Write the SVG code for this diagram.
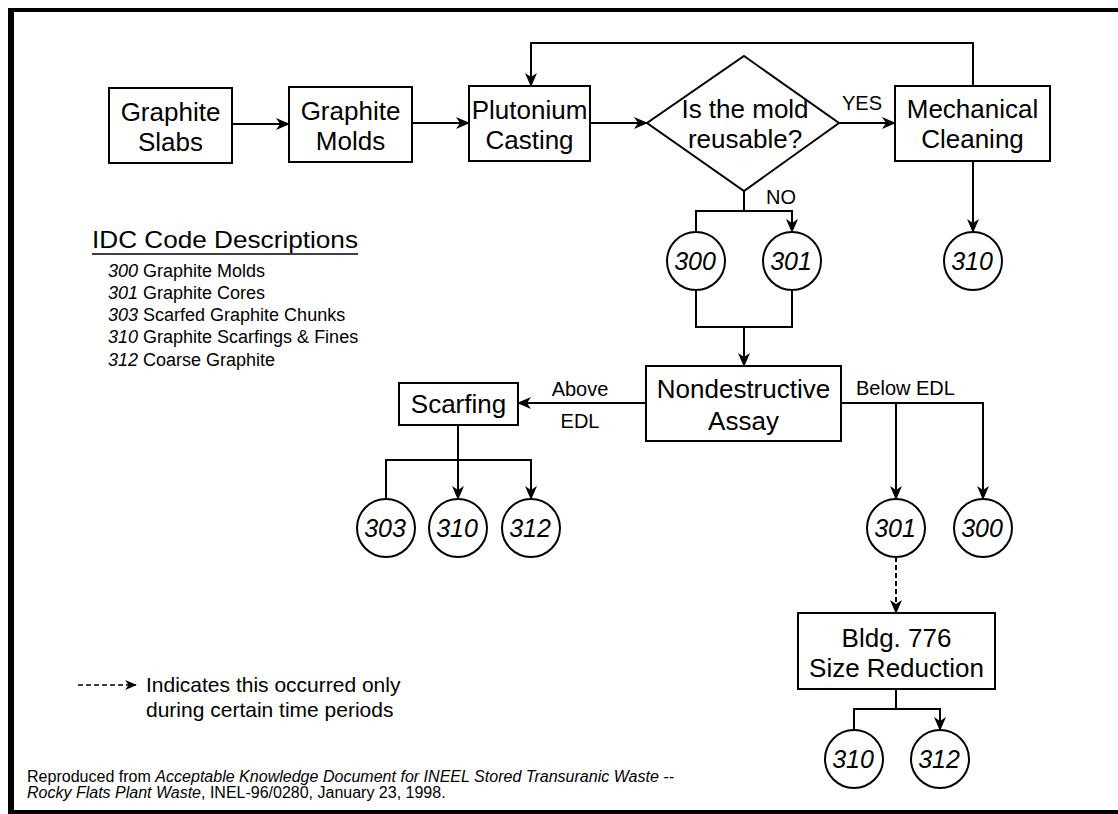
<svg xmlns="http://www.w3.org/2000/svg" width="1118" height="814" viewBox="0 0 1118 814">
<style>
text{font-family:"Liberation Sans",Arial,sans-serif;fill:#000}
.box{fill:#fff;stroke:#000;stroke-width:2}
.t{font-size:26px;text-anchor:middle}
.c{font-size:25px;font-style:italic;text-anchor:middle}
.lbl{font-size:20px}
.ln{fill:none;stroke:#000;stroke-width:2}
.ar{marker-end:url(#ah)}
.dash{stroke-dasharray:5,3}
.it{font-style:italic}
</style>
<defs>
<marker id="ah" viewBox="0 0 14 12" refX="13" refY="6" markerWidth="14" markerHeight="12" markerUnits="userSpaceOnUse" orient="auto">
<path d="M0,0 L14,6 L0,12 L4,6 z" fill="#000"/>
</marker>
<marker id="ahs" viewBox="0 0 14 12" refX="13" refY="6" markerWidth="12" markerHeight="10" markerUnits="userSpaceOnUse" orient="auto">
<path d="M0,0 L14,6 L0,12 L4,6 z" fill="#000"/>
</marker>
</defs>
<rect x="0" y="0" width="1118" height="814" fill="#fff"/>
<g id="frame" stroke="#000" fill="none">
<line x1="8" y1="10" x2="1118" y2="10" stroke-width="4"/>
<line x1="11" y1="8" x2="11" y2="814" stroke-width="6"/>
<line x1="8" y1="812" x2="1118" y2="812" stroke-width="4"/>
</g>
<g id="connectors">
<line class="ln ar" x1="232" y1="124" x2="289" y2="124"/>
<line class="ln ar" x1="412" y1="123" x2="469" y2="123"/>
<line class="ln ar" x1="590" y1="123" x2="647" y2="123"/>
<line class="ln ar" x1="839" y1="123" x2="895" y2="123"/>
<polyline class="ln ar" points="973,86 973,43 531,43 531,86"/>
<line class="ln ar" x1="973" y1="161" x2="973" y2="232"/>
<polyline class="ln" points="744,191 744,211"/>
<polyline class="ln ar" points="696,232 696,211 792,211 792,232"/>
<polyline class="ln" points="696,290 696,327 792,327 792,290"/>
<line class="ln ar" x1="744" y1="327" x2="744" y2="366"/>
<line class="ln ar" x1="646" y1="403" x2="518" y2="403"/>
<polyline class="ln ar" points="841,403 983,403 983,499"/>
<line class="ln ar" x1="896" y1="403" x2="896" y2="499"/>
<line class="ln" x1="458" y1="425" x2="458" y2="460"/>
<polyline class="ln ar" points="386,499 386,460 531,460 531,499"/>
<line class="ln ar" x1="458" y1="460" x2="458" y2="499"/>
<line class="ln ar dash" x1="896" y1="557" x2="896" y2="613"/>
<line class="ln" x1="896" y1="689" x2="896" y2="709"/>
<polyline class="ln ar" points="854,730 854,709 940,709 940,730"/>
</g>
<g id="slabs"><rect class="box" x="109" y="88" width="123" height="75"/><text class="t" x="170.5" y="121">Graphite</text><text class="t" x="170.5" y="151">Slabs</text></g>
<g id="molds"><rect class="box" x="289" y="87" width="123" height="75"/><text class="t" x="350.5" y="120">Graphite</text><text class="t" x="350.5" y="150">Molds</text></g>
<g id="casting"><rect class="box" x="469" y="86" width="121" height="75"/><text class="t" x="529.5" y="119">Plutonium</text><text class="t" x="529.5" y="149">Casting</text></g>
<g id="decision"><polygon class="box" points="744,56 839,123 744,191 647,123"/><text class="t" x="745" y="118">Is the mold</text><text class="t" x="745" y="148">reusable?</text></g>
<g id="mech"><rect class="box" x="895" y="86" width="155" height="75"/><text class="t" x="972.5" y="118">Mechanical</text><text class="t" x="972.5" y="148">Cleaning</text></g>
<g id="lbl-yes"><text class="lbl" x="842" y="110">YES</text></g>
<g id="lbl-no"><text class="lbl" x="766" y="204">NO</text></g>
<g id="c300a"><circle class="box" cx="696" cy="261" r="29"/><text class="c" x="695" y="270">300</text></g>
<g id="c301a"><circle class="box" cx="792" cy="261" r="29"/><text class="c" x="791" y="270">301</text></g>
<g id="c310a"><circle class="box" cx="973" cy="261" r="29"/><text class="c" x="972" y="270">310</text></g>
<g id="nda"><rect class="box" x="646" y="366" width="195" height="75"/><text class="t" x="743.5" y="398">Nondestructive</text><text class="t" x="743.5" y="430">Assay</text></g>
<g id="lbl-above"><text class="lbl" x="580" y="396" text-anchor="middle">Above</text><text class="lbl" x="580" y="428" text-anchor="middle">EDL</text></g>
<g id="lbl-below"><text class="lbl" x="856" y="395">Below EDL</text></g>
<g id="scarfing"><rect class="box" x="399" y="383" width="119" height="42"/><text class="t" x="458.5" y="413">Scarfing</text></g>
<g id="c303"><circle class="box" cx="386" cy="528" r="29"/><text class="c" x="385" y="537">303</text></g>
<g id="c310b"><circle class="box" cx="458" cy="528" r="29"/><text class="c" x="457" y="537">310</text></g>
<g id="c312b"><circle class="box" cx="531" cy="528" r="29"/><text class="c" x="530" y="537">312</text></g>
<g id="c301b"><circle class="box" cx="896" cy="528" r="29"/><text class="c" x="895" y="537">301</text></g>
<g id="c300b"><circle class="box" cx="983" cy="528" r="29"/><text class="c" x="982" y="537">300</text></g>
<g id="bldg"><rect class="box" x="798" y="613" width="197" height="76"/><text class="t" x="896.5" y="647">Bldg. 776</text><text class="t" x="896.5" y="677">Size Reduction</text></g>
<g id="c310c"><circle class="box" cx="854" cy="759" r="29"/><text class="c" x="853" y="768">310</text></g>
<g id="c312c"><circle class="box" cx="940" cy="759" r="29"/><text class="c" x="939" y="768">312</text></g>
<g id="idc-legend">
<text x="92" y="248" font-size="24" textLength="266" lengthAdjust="spacingAndGlyphs">IDC Code Descriptions</text>
<line x1="92" y1="254" x2="358" y2="254" stroke="#000" stroke-width="1.5"/>
<text x="108" y="277" font-size="18"><tspan class="it">300</tspan> Graphite Molds</text>
<text x="108" y="299" font-size="18"><tspan class="it">301</tspan> Graphite Cores</text>
<text x="108" y="321" font-size="18"><tspan class="it">303</tspan> Scarfed Graphite Chunks</text>
<text x="108" y="343" font-size="18"><tspan class="it">310</tspan> Graphite Scarfings &amp; Fines</text>
<text x="108" y="366" font-size="18"><tspan class="it">312</tspan> Coarse Graphite</text>
</g>
<g id="dash-legend">
<line x1="78" y1="685" x2="136" y2="685" stroke="#000" stroke-width="1.5" stroke-dasharray="5,3" marker-end="url(#ahs)"/>
<text x="146" y="692" font-size="21">Indicates this occurred only</text>
<text x="146" y="717" font-size="21">during certain time periods</text>
</g>
<g id="footer">
<text x="27" y="782" font-size="16" textLength="647" lengthAdjust="spacingAndGlyphs">Reproduced from <tspan class="it">Acceptable Knowledge Document for INEEL Stored Transuranic Waste --</tspan></text>
<text x="27" y="798" font-size="16"><tspan class="it">Rocky Flats Plant Waste</tspan>, INEL-96/0280, January 23, 1998.</text>
</g>
</svg>
